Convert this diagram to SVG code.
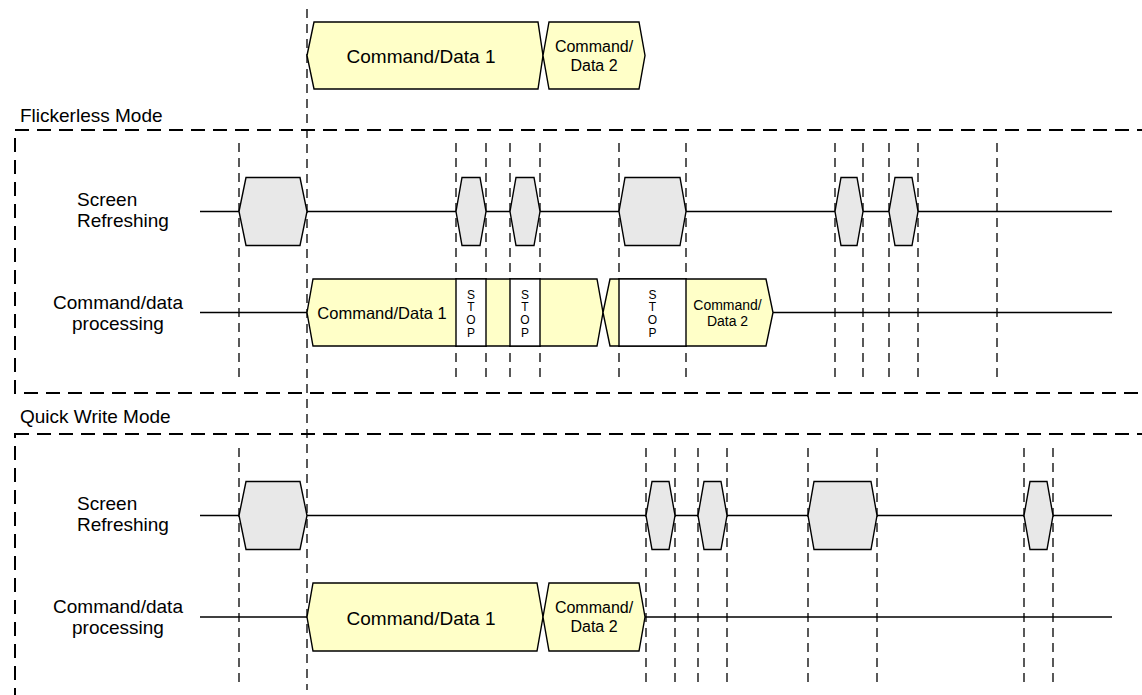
<svg xmlns="http://www.w3.org/2000/svg" width="1142" height="695" viewBox="0 0 1142 695">
<style>
text{font-family:"Liberation Sans",Arial,sans-serif;fill:#000}
.lbl{font-size:19px}
.big{font-size:19px;text-anchor:middle}
.mid{font-size:16px;text-anchor:middle}
.sm{font-size:14px;text-anchor:middle}
.stop{font-size:12px;text-anchor:middle}
.box{fill:none;stroke:#000;stroke-width:2;stroke-dasharray:14 8}
.guide{fill:none;stroke:#000;stroke-width:1.3;stroke-dasharray:9 6}
.sig{fill:none;stroke:#000;stroke-width:1.4}
.gray{fill:#E8E8E8;stroke:#000;stroke-width:1.4}
.yel{fill:#FFFFC8;stroke:#000;stroke-width:1.4}
.wht{fill:#FFFFFF;stroke:#000;stroke-width:1.4}
</style>
<rect width="1142" height="695" fill="#fff"/>

<!-- section frames -->
<g id="flickerless-frame">
<rect class="box" x="15" y="130" width="1200" height="263"/>
<text class="lbl" x="20" y="122">Flickerless Mode</text>
</g>
<g id="quickwrite-frame">
<rect class="box" x="15" y="434" width="1200" height="320"/>
<text class="lbl" x="20" y="423">Quick Write Mode</text>
</g>

<!-- timing guides -->
<g id="guides">
<line class="guide" x1="307" y1="9" x2="307" y2="690"/>
<line class="guide" x1="239" y1="143" x2="239" y2="381"/>
<line class="guide" x1="456" y1="143" x2="456" y2="381"/>
<line class="guide" x1="486" y1="143" x2="486" y2="381"/>
<line class="guide" x1="510" y1="143" x2="510" y2="381"/>
<line class="guide" x1="540" y1="143" x2="540" y2="381"/>
<line class="guide" x1="619" y1="143" x2="619" y2="381"/>
<line class="guide" x1="686" y1="143" x2="686" y2="381"/>
<line class="guide" x1="835" y1="143" x2="835" y2="381"/>
<line class="guide" x1="863" y1="143" x2="863" y2="381"/>
<line class="guide" x1="889" y1="143" x2="889" y2="381"/>
<line class="guide" x1="918" y1="143" x2="918" y2="381"/>
<line class="guide" x1="997" y1="143" x2="997" y2="381"/>
<line class="guide" x1="239" y1="448" x2="239" y2="686"/>
<line class="guide" x1="646" y1="448" x2="646" y2="686"/>
<line class="guide" x1="675" y1="448" x2="675" y2="686"/>
<line class="guide" x1="698" y1="448" x2="698" y2="686"/>
<line class="guide" x1="727" y1="448" x2="727" y2="686"/>
<line class="guide" x1="808" y1="448" x2="808" y2="686"/>
<line class="guide" x1="877" y1="448" x2="877" y2="686"/>
<line class="guide" x1="1024" y1="448" x2="1024" y2="686"/>
<line class="guide" x1="1053" y1="448" x2="1053" y2="686"/>
</g>

<!-- signal lines -->
<g id="connectors">
<line class="sig" x1="200" y1="211.5" x2="1112" y2="211.5"/>
<line class="sig" x1="200" y1="312.5" x2="307" y2="312.5"/>
<line class="sig" x1="773" y1="312.5" x2="1112" y2="312.5"/>
<line class="sig" x1="200" y1="515.5" x2="1112" y2="515.5"/>
<line class="sig" x1="200" y1="617" x2="307" y2="617"/>
<line class="sig" x1="645" y1="617" x2="1112" y2="617"/>
</g>

<!-- top reference sequence -->
<g id="top-cmd1">
<polygon class="yel" points="307,55.5 314,22 538,22 543,55.5 538,89 314,89"/>
<text class="big" x="421" y="63">Command/Data 1</text>
</g>
<g id="top-cmd2">
<polygon class="yel" points="543,55.5 549,22 639,22 645,55.5 639,89 549,89"/>
<text class="mid" x="594" y="52">Command/</text>
<text class="mid" x="594" y="71">Data 2</text>
</g>

<!-- Flickerless labels -->
<g id="f-label-refresh">
<text class="lbl" x="77" y="206">Screen</text>
<text class="lbl" x="77" y="227">Refreshing</text>
</g>
<g id="f-label-cmd">
<text class="lbl" x="118" y="308.5" text-anchor="middle">Command/data</text>
<text class="lbl" x="118" y="329.5" text-anchor="middle">processing</text>
</g>

<!-- Flickerless refresh pulses -->
<g id="f-ref-1"><polygon class="gray" points="239,211.5 246,177.5 300,177.5 307,211.5 300,245.5 246,245.5"/></g>
<g id="f-ref-2"><polygon class="gray" points="456,211.5 462,177.5 480,177.5 486,211.5 480,245.5 462,245.5"/></g>
<g id="f-ref-3"><polygon class="gray" points="510,211.5 516,177.5 534,177.5 540,211.5 534,245.5 516,245.5"/></g>
<g id="f-ref-4"><polygon class="gray" points="619,211.5 625,177.5 680,177.5 686,211.5 680,245.5 625,245.5"/></g>
<g id="f-ref-5"><polygon class="gray" points="835,211.5 841,177.5 857,177.5 863,211.5 857,245.5 841,245.5"/></g>
<g id="f-ref-6"><polygon class="gray" points="889,211.5 895,177.5 912,177.5 918,211.5 912,245.5 895,245.5"/></g>

<!-- Flickerless command processing -->
<g id="f-cmd1">
<polygon class="yel" points="307,312.5 313,279 597,279 603,312.5 597,346 313,346"/>
<text x="382" y="319" font-size="16.5" text-anchor="middle">Command/Data 1</text>
</g>
<g id="f-stop-1">
<rect class="wht" x="456" y="279" width="30" height="67"/>
<text class="stop" x="471" y="298.5">S</text>
<text class="stop" x="471" y="311.2">T</text>
<text class="stop" x="471" y="323.9">O</text>
<text class="stop" x="471" y="336.6">P</text>
</g>
<g id="f-stop-2">
<rect class="wht" x="510" y="279" width="30" height="67"/>
<text class="stop" x="525" y="298.5">S</text>
<text class="stop" x="525" y="311.2">T</text>
<text class="stop" x="525" y="323.9">O</text>
<text class="stop" x="525" y="336.6">P</text>
</g>
<g id="f-cmd2">
<polygon class="yel" points="603,312.5 610,279 766,279 773,312.5 766,346 610,346"/>
<text class="sm" x="727.5" y="310">Command/</text>
<text class="sm" x="727.5" y="326">Data 2</text>
</g>
<g id="f-stop-3">
<rect class="wht" x="619" y="279" width="67" height="67"/>
<text class="stop" x="652.5" y="298.5">S</text>
<text class="stop" x="652.5" y="311.2">T</text>
<text class="stop" x="652.5" y="323.9">O</text>
<text class="stop" x="652.5" y="336.6">P</text>
</g>

<!-- Quick write labels -->
<g id="q-label-refresh">
<text class="lbl" x="77" y="510">Screen</text>
<text class="lbl" x="77" y="531">Refreshing</text>
</g>
<g id="q-label-cmd">
<text class="lbl" x="118" y="612.5" text-anchor="middle">Command/data</text>
<text class="lbl" x="118" y="633.5" text-anchor="middle">processing</text>
</g>

<!-- Quick write refresh pulses -->
<g id="q-ref-1"><polygon class="gray" points="239,515.5 246,481.5 300,481.5 307,515.5 300,549.5 246,549.5"/></g>
<g id="q-ref-2"><polygon class="gray" points="646,515.5 652,481.5 669,481.5 675,515.5 669,549.5 652,549.5"/></g>
<g id="q-ref-3"><polygon class="gray" points="698,515.5 704,481.5 721,481.5 727,515.5 721,549.5 704,549.5"/></g>
<g id="q-ref-4"><polygon class="gray" points="808,515.5 814,481.5 871,481.5 877,515.5 871,549.5 814,549.5"/></g>
<g id="q-ref-5"><polygon class="gray" points="1024,515.5 1030,481.5 1047,481.5 1053,515.5 1047,549.5 1030,549.5"/></g>

<!-- Quick write command processing -->
<g id="q-cmd1">
<polygon class="yel" points="307,617 313,583 537,583 543,617 537,651 313,651"/>
<text class="big" x="421" y="624.5">Command/Data 1</text>
</g>
<g id="q-cmd2">
<polygon class="yel" points="543,617 549,583 639,583 645,617 639,651 549,651"/>
<text class="mid" x="594" y="613.3">Command/</text>
<text class="mid" x="594" y="632">Data 2</text>
</g>
</svg>
